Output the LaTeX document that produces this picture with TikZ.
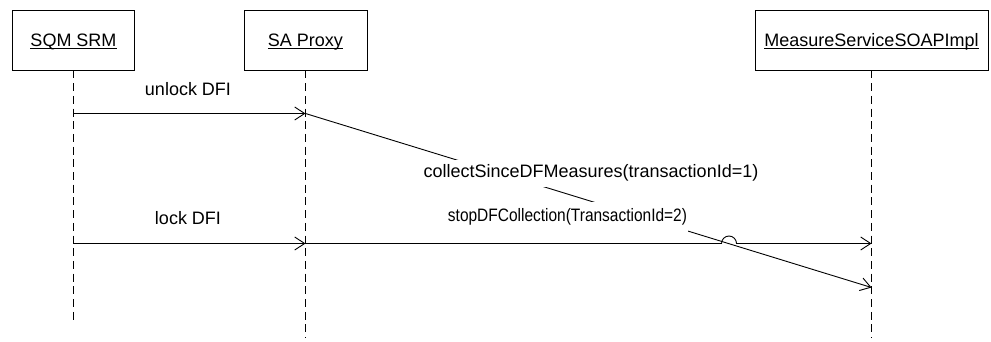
\documentclass[tikz,border=0pt]{standalone}
\usepackage{graphicx}
\usepackage{fontspec}
\setmainfont{Liberation Sans}
\usetikzlibrary{arrows.meta}

% underline drawn at a fixed offset below the baseline
\newcommand\ulabel[1]{\setbox0\hbox{#1}\rlap{\vrule height -1.6pt depth 2.6pt width \wd0}\box0}

\tikzset{
  objbox/.style={draw, line width=0.9pt, minimum height=60pt, inner sep=0pt,
    text height=13pt, text depth=0pt, font=\fontsize{18}{21}\selectfont},
  lifeline/.style={line width=0.9pt, dash pattern=on 8pt off 4.7pt},
  msg/.style={line width=0.9pt, -{Straight Barb[length=10pt,width=13pt]}},
  msglabel/.style={font=\fontsize{18}{21}\selectfont, inner sep=0pt, anchor=base},
  cover/.style={fill=white, inner sep=0pt},
}

\begin{document}
\begin{tikzpicture}[x=1pt,y=-1pt]
\useasboundingbox (0,0) rectangle (991,342);

% objects
\node[objbox, minimum width=122pt] (srm) at (73.5,40) {\ulabel{SQM SRM}};
\node[objbox, minimum width=123pt] (proxy) at (305.5,40) {\ulabel{SA Proxy}};
\node[objbox, minimum width=233pt] (impl) at (871.5,40) {\ulabel{MeasureServiceSOAPImpl}};

% lifeline ends
\coordinate (srmEnd) at (73.5,322);
\coordinate (proxyEnd) at (305.5,338);
\coordinate (implEnd) at (871.5,338);
\draw[lifeline] (srm.south) -- (srmEnd);
\draw[lifeline] (proxy.south) -- (proxyEnd);
\draw[lifeline] (impl.south) -- (implEnd);

% message anchors on the lifelines
\coordinate (s1) at (73.5,113.5);
\coordinate (p1) at (305.5,113.5);
\coordinate (s2) at (73.5,243.5);
\coordinate (p2) at (305.5,243.5);
\coordinate (i2) at (871.5,243.5);
\coordinate (i3) at (871.5,287.5);
\coordinate (jl) at (721.5,243.5);
\coordinate (jr) at (736.5,243.5);

% messages
\draw[msg] (s1) -- (p1);
\node[msglabel] (lunlock) at (188,95.5) {unlock DFI};

\draw[msg] (p1) -- (i3);
\node[msglabel, cover, inner ysep=5pt, inner xsep=2pt] (lcollect) at (591,178)
  {collectSinceDFMeasures(transactionId=1)};

\draw[msg] (s2) -- (p2);
\node[msglabel] (llock) at (188,224) {lock DFI};

% the call to stopDFCollection hops over the earlier diagonal message
\draw[msg] (p2) -- (jl) arc (180:360:7.5) -- (i2);
\node[cover, minimum width=248pt, minimum height=32pt] (stopcover) at (564,218) {};
\node[msglabel] (lstop) at (567.5,221)
  {\scalebox{0.86}[1]{stopDFCollection(TransactionId=2)}};
\end{tikzpicture}
\end{document}
